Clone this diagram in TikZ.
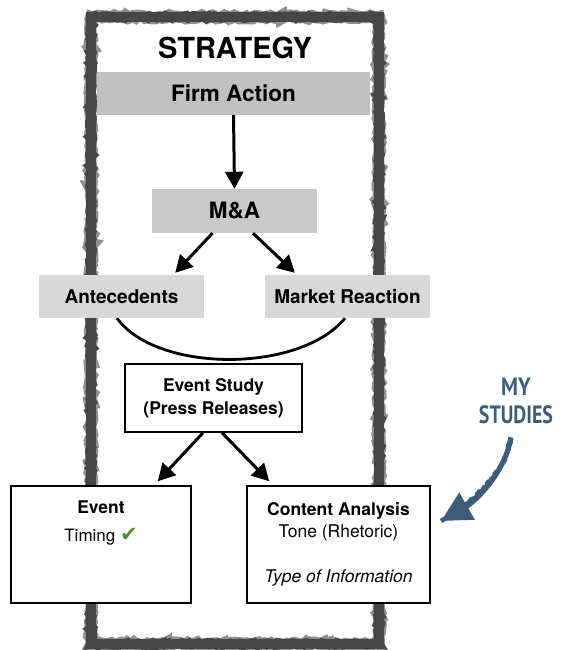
\documentclass[tikz,border=0pt]{standalone}
\usepackage{fontspec}
\setmainfont{TeX Gyre Heros}
\newfontfamily\handfont{PT Sans}
\newfontfamily\symfont{DejaVu Sans}
\usetikzlibrary{arrows.meta,positioning,decorations.pathmorphing,calc}
\definecolor{framegray}{RGB}{70,70,70}
\definecolor{bargray}{RGB}{192,192,192}
\definecolor{lightbar}{RGB}{216,216,216}
\definecolor{noteblue}{RGB}{62,92,122}
\definecolor{checkgreen}{RGB}{92,140,50}
\tikzset{
  bar/.style={rectangle, fill=bargray, inner sep=0pt, minimum height=43pt,
    font=\fontsize{22.5}{26}\selectfont\bfseries},
  subbar/.style={rectangle, fill=lightbar, inner sep=0pt, minimum height=43pt,
    minimum width=165pt, font=\fontsize{19}{22}\selectfont\bfseries},
  resbox/.style={rectangle, draw=black, line width=1.6pt, fill=white, align=center,
    inner sep=0pt},
  arr/.style={-{Triangle[length=17pt,width=18pt]}, line width=3pt},
  rough/.style={decorate, decoration={random steps, segment length=3pt, amplitude=1.6pt}},
}

\begin{document}
\begin{tikzpicture}[x=1pt, y=-1pt,
    notearr/.style={-{Triangle[length=30pt,width=30pt]}, line width=5pt, noteblue,
      postaction={draw, arrows=-, line width=4.5pt, decorate,
        decoration={random steps, segment length=2pt, amplitude=1.2pt}}},
  ]
  \useasboundingbox (0,0) rectangle (560,650);
  % ── rough strategy frame ──────────────────────────────────────────
  \fill[white] (91,17) rectangle (379,644);
  \draw[framegray, line width=10pt] (91,17) rectangle (379,644);
  \draw[framegray, line width=9pt, rough] (91,17) rectangle (379,644);
  \draw[framegray, line width=12pt, rough, opacity=.6] (91,17) rectangle (379,644);
  % ── top: strategy / firm action / M&A ────────────────────────────
  \node (title) at (235,48) {\fontsize{29}{32}\selectfont\bfseries STRATEGY};
  \node[bar, minimum width=273pt] (firm) at (233.5,93.5) {Firm Action};
  \node[bar, fill=bargray!85!white, minimum width=165pt, minimum height=44pt] (ma)
    at (234.5,211) {M\&A};
  % ── second row ───────────────────────────────────────────────────
  \node[subbar] (ante)  at (121.5,296.5) {Antecedents};
  \node[subbar] (react) at (347.5,296.5) {Market Reaction};
  % ── event study and its two outputs ──────────────────────────────
  \node[resbox, minimum width=177pt, minimum height=68pt,
    font=\fontsize{17.5}{23}\selectfont\bfseries] (study) at (213.5,398)
    {Event Study\\(Press Releases)};
  \node[resbox, minimum width=180pt, minimum height=117pt,
    font=\fontsize{17}{22.5}\selectfont] (event) at (101,544.5)
    {{\fontsize{17.5}{22.5}\selectfont\bfseries Event}\\[6pt]
     Timing {\symfont\fontsize{21}{22.5}\selectfont\color{checkgreen}✔}\\[24pt]\mbox{}};
  \node[resbox, minimum width=183pt, minimum height=117pt,
    font=\fontsize{17.5}{22.5}\selectfont] (content) at (338.5,544.5)
    {{\bfseries Content Analysis}\\Tone (Rhetoric)\\[22.5pt]
     {\itshape Type of Information}};
  % ── side note ────────────────────────────────────────────────────
  \node[text=noteblue, align=center, font=\handfont\bfseries\fontsize{25}{28}\selectfont]
    (studies) at (516,401) {\scalebox{0.85}[1]{MY}\\\scalebox{0.8}[1]{STUDIES}};
  \coordinate (tip) at (441,521);
  % ── arrows ───────────────────────────────────────────────────────
  \draw[arr] (firm.south) -- (ma.north);
  \draw[arr] ([xshift=-22pt]ma.south) -- ([xshift=-29pt,yshift=2pt]ante.north east);
  \draw[arr] ([xshift=18.5pt]ma.south) -- ([xshift=30pt,yshift=2pt]react.north west);
  \draw[line width=2.8pt] ([xshift=-4.5pt]ante.south) .. controls +(40,55) and +(-45,55)
    .. ([xshift=-2.5pt]react.south);
  \draw[arr] ([xshift=-10.5pt]study.south) -- ([xshift=-34pt,yshift=4pt]event.north east);
  \draw[arr] ([xshift=8.5pt]study.south) -- ([xshift=23pt,yshift=4pt]content.north west);
  \draw[notearr] ([xshift=-5pt,yshift=-10pt]studies.south) .. controls +(-6,35) and +(35,-20)
    .. (tip);
\end{tikzpicture}
\end{document}
